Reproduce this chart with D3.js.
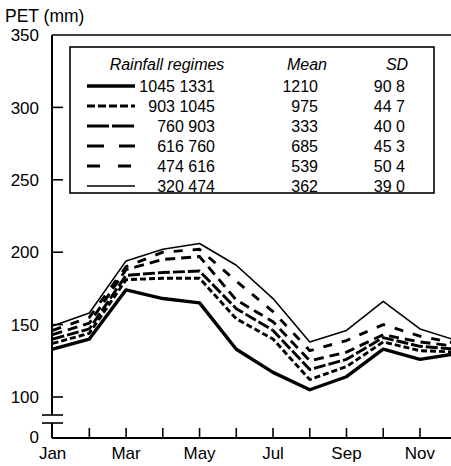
<!DOCTYPE html>
<html><head><meta charset="utf-8">
<script src="https://cdn.jsdelivr.net/npm/d3@7"></script>
<style>
html,body{margin:0;padding:0;background:#fff;}
svg{display:block;}
text{font-family:"Liberation Sans",Arial,sans-serif;fill:#000;}
</style></head>
<body><svg id="c" width="451" height="466"></svg>
<script>
const months = ["Jan","Feb","Mar","Apr","May","Jun","Jul","Aug","Sep","Oct","Nov","Dec"];
const monthLabels = ["Jan","Mar","May","Jul","Sep","Nov"];
const yTicks = [100,150,200,250,300,350];
const regimes = ["1045 1331","903 1045","760 903","616 760","474 616","320 474"];
const means = ["1210","975","333","685","539","362"];
const sds = ["90 8","44 7","40 0","45 3","50 4","39 0"];
// PET values (mm), Jan..Dec, one array per rainfall regime
const pet_1045_1331 = [133,140,174,168,165,133,117,105,114,133,126,130];
const pet_903_1045  = [137,144,181,182,182,154,140,112,121,138,132,131];
const pet_760_903   = [140,147,184,186,187,161,146,119,126,141,135,133];
const pet_616_760   = [143,151,188,195,197,167,152,125,131,143,138,135];
const pet_474_616   = [146,155,190,200,202,180,159,132,139,150,142,137];
const pet_320_474   = [149,158,194,202,206,191,168,138,146,166,147,139];
const series = [pet_1045_1331,pet_903_1045,pet_760_903,pet_616_760,pet_474_616,pet_320_474];

const styles = [
  {w:3.4, dash:null, legDash:null},
  {w:2.9, dash:"6,3", legDash:"8,3"},
  {w:2.9, dash:"12,3", legDash:"22,3"},
  {w:2.9, dash:"10,6", legDash:"17,15"},
  {w:2.9, dash:"9,10", legDash:"13,18"},
  {w:1.6, dash:null, legDash:null}
];

const svg = d3.select("#c");
const x0 = 52, xBase = 438;
const x = d3.scalePoint().domain(months).range([52.6, 456.7]);
const y = d3.scaleLinear().domain([100,350]).range([397,35]);

// frame: top border
svg.append("line").attr("x1",x0).attr("x2",451).attr("y1",y(350)).attr("y2",y(350))
  .attr("stroke","#000").attr("stroke-width",1.6);
// left axis with break
svg.append("line").attr("x1",x0).attr("x2",x0).attr("y1",y(350)).attr("y2",415).attr("stroke","#000").attr("stroke-width",2);
svg.append("line").attr("x1",x0).attr("x2",x0).attr("y1",423).attr("y2",xBase).attr("stroke","#000").attr("stroke-width",2);
[415,423].forEach(b=>svg.append("line").attr("x1",42).attr("x2",63).attr("y1",b).attr("y2",b).attr("stroke","#000").attr("stroke-width",1.6));
// bottom axis
svg.append("line").attr("x1",x0).attr("x2",451).attr("y1",xBase).attr("y2",xBase).attr("stroke","#000").attr("stroke-width",2);

// y ticks & labels
yTicks.forEach(t=>{
  if(t<350) svg.append("line").attr("x1",x0).attr("x2",x0+11).attr("y1",y(t)).attr("y2",y(t)).attr("stroke","#000").attr("stroke-width",1.6);
  svg.append("text").attr("x",39).attr("y",y(t)).attr("dy","0.36em").attr("text-anchor","end").attr("font-size",17).text(t);
});
svg.append("text").attr("x",39).attr("y",xBase-1).attr("dy","0.36em").attr("text-anchor","end").attr("font-size",17).text("0");
svg.append("text").attr("x",5).attr("y",22).attr("font-size",17.5).text("PET (mm)");

// x ticks & labels
months.forEach((m,i)=>{
  if(i>0) svg.append("line").attr("x1",x(m)).attr("x2",x(m)).attr("y1",xBase).attr("y2",xBase-10).attr("stroke","#000").attr("stroke-width",1.6);
});
monthLabels.forEach(m=>{
  svg.append("text").attr("x",x(m)).attr("y",459).attr("text-anchor","middle").attr("font-size",17).text(m);
});

// lines
const line = d3.line().x((d,i)=>x(months[i])).y(d=>y(d));
series.forEach((s,k)=>{
  svg.append("path").datum(s).attr("d",line).attr("fill","none").attr("stroke","#000")
    .attr("stroke-width",styles[k].w).attr("stroke-linejoin","round")
    .attr("stroke-dasharray",styles[k].dash);
});

// legend
const lg = svg.append("g");
lg.append("rect").attr("x",70).attr("y",47).attr("width",364).attr("height",146)
  .attr("fill","#fff").attr("stroke","#000").attr("stroke-width",1.6);
lg.append("text").attr("x",167).attr("y",70).attr("text-anchor","middle").attr("font-size",16).attr("font-style","italic").text("Rainfall regimes");
lg.append("text").attr("x",307).attr("y",70).attr("text-anchor","middle").attr("font-size",16).attr("font-style","italic").text("Mean");
lg.append("text").attr("x",397).attr("y",70).attr("text-anchor","middle").attr("font-size",16).attr("font-style","italic").text("SD");
regimes.forEach((r,i)=>{
  const yy = 86 + i*20;
  lg.append("line").attr("x1",87).attr("x2",135).attr("y1",yy).attr("y2",yy).attr("stroke","#000")
    .attr("stroke-width",styles[i].w).attr("stroke-dasharray",styles[i].legDash);
  lg.append("text").attr("x",215).attr("y",yy).attr("dy","0.36em").attr("text-anchor","end").attr("font-size",16).text(r);
  lg.append("text").attr("x",318).attr("y",yy).attr("dy","0.36em").attr("text-anchor","end").attr("font-size",16).text(means[i]);
  lg.append("text").attr("x",405).attr("y",yy).attr("dy","0.36em").attr("text-anchor","end").attr("font-size",16).text(sds[i]);
});
</script></body></html>
